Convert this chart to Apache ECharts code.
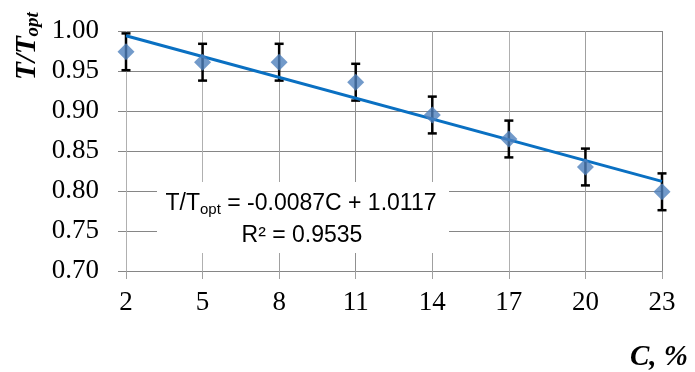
<!DOCTYPE html>
<html>
<head>
<meta charset="utf-8">
<script src="https://cdn.jsdelivr.net/npm/echarts@6/dist/echarts.min.js"></script>
<style>
  html, body { margin: 0; padding: 0; background: #fff; }
  #container { width: 695px; height: 372px; }
</style>
</head>
<body>
<div id="container"></div>
<script>
"use strict";

// concentration C, %
const cValues = [2, 5, 8, 11, 14, 17, 20, 23];
// T/Topt measured
const ratio = [0.974, 0.961, 0.961, 0.936, 0.895, 0.865, 0.830, 0.799];
// error bar half-width
const errors = [0.023, 0.023, 0.023, 0.023, 0.023, 0.023, 0.023, 0.023];
// linear trend line ends
const trendX = [2, 23];
const trendY = [0.994, 0.812];

const xTicks = [2, 5, 8, 11, 14, 17, 20, 23];
const yTicks = [0.70, 0.75, 0.80, 0.85, 0.90, 0.95, 1.00];

let myChart = echarts.init(document.getElementById('container'));

const serif = 'Liberation Serif';
const points = cValues.map((c, i) => [c, ratio[i]]);
const errData = cValues.map((c, i) => [c, ratio[i] - errors[i], ratio[i] + errors[i]]);
const trendData = trendX.map((x, i) => [x, trendY[i]]);

let option = {
  animation: false,
  grid: {
    left: 126,
    right: 33,
    top: 31,
    bottom: 101,
  },
  xAxis: {
    type: 'value',
    min: xTicks[0],
    max: xTicks[xTicks.length - 1],
    interval: 3,
    axisLine: { show: true, lineStyle: { color: '#868686', width: 1 } },
    axisTick: { show: true, length: 8, lineStyle: { color: '#a0a0a0' } },
    axisLabel: {
      fontFamily: serif,
      fontSize: 27,
      color: '#000',
      margin: 18,
    },
    splitLine: {
      show: true,
      lineStyle: {
        color: ['#b0b0b0', '#b0b0b0', '#a0a0a0', '#909090', '#a0a0a0', '#b0b0b0', '#a0a0a0', '#868686'],
        width: 1,
      },
    },
  },
  yAxis: {
    type: 'value',
    min: yTicks[0],
    max: yTicks[yTicks.length - 1],
    interval: 0.05,
    axisLine: { show: false },
    axisTick: { show: true, length: 8, lineStyle: { color: '#868686' } },
    axisLabel: {
      fontFamily: serif,
      fontSize: 27,
      color: '#000',
      margin: 27,
      formatter: (v) => v.toFixed(2),
    },
    splitLine: { show: true, lineStyle: { color: '#868686', width: 1 } },
  },
  graphic: [
    {
      type: 'rect',
      shape: { x: 157, y: 182, width: 292, height: 71 },
      style: { fill: '#fff' },
      z: 5,
    },
    {
      type: 'text',
      x: 301,
      y: 204,
      z: 6,
      style: {
        text: '{a|T/T}{s|opt}{a| = -0.0087C + 1.0117}',
        align: 'center',
        verticalAlign: 'middle',
        rich: {
          a: { fontFamily: 'Liberation Sans', fontSize: 23, lineHeight: 27, fill: '#000' },
          s: { fontFamily: 'Liberation Sans', fontSize: 15, lineHeight: 18, verticalAlign: 'bottom', fill: '#000' },
        },
      },
    },
    {
      type: 'text',
      x: 302,
      y: 236,
      z: 6,
      style: {
        text: 'R² = 0.9535',
        align: 'center',
        verticalAlign: 'middle',
        fontFamily: 'Liberation Sans',
        fontSize: 23,
        fill: '#000',
      },
    },
    {
      type: 'text',
      x: 28,
      y: 46,
      rotation: Math.PI / 2,
      style: {
        text: '{a|T/T}{s|opt}',
        align: 'center',
        verticalAlign: 'middle',
        rich: {
          a: { fontFamily: serif, fontSize: 29, fontWeight: 'bold', fontStyle: 'italic', lineHeight: 30, fill: '#000' },
          s: { fontFamily: serif, fontSize: 19, fontWeight: 'bold', fontStyle: 'italic', lineHeight: 20, verticalAlign: 'bottom', fill: '#000' },
        },
      },
    },
    {
      type: 'text',
      right: 7,
      top: 343,
      style: {
        text: 'C, %',
        fontFamily: serif,
        fontSize: 29,
        fontWeight: 'bold',
        fontStyle: 'italic',
        fill: '#000',
      },
    },
  ],
  series: [
    {
      type: 'custom',
      name: 'error',
      data: errData,
      z: 3,
      renderItem: (params, api) => {
        const x = api.value(0);
        const lo = api.coord([x, api.value(1)]);
        const hi = api.coord([x, api.value(2)]);
        const cap = 4.5;
        const style = { stroke: '#000', lineWidth: 2.5 };
        return {
          type: 'group',
          children: [
            { type: 'line', shape: { x1: lo[0], y1: lo[1], x2: hi[0], y2: hi[1] }, style },
            { type: 'line', shape: { x1: lo[0] - cap, y1: lo[1], x2: lo[0] + cap, y2: lo[1] }, style },
            { type: 'line', shape: { x1: hi[0] - cap, y1: hi[1], x2: hi[0] + cap, y2: hi[1] }, style },
          ],
        };
      },
    },
    {
      type: 'scatter',
      data: points,
      symbol: 'diamond',
      symbolSize: [17, 17],
      itemStyle: { color: '#4f81bd' },
      z: 4,
    },
    {
      type: 'line',
      data: trendData,
      showSymbol: false,
      symbol: 'none',
      lineStyle: { color: '#0a70c2', width: 3 },
      z: 4,
    },
  ],
};

myChart.setOption(option);
</script>
</body>
</html>
